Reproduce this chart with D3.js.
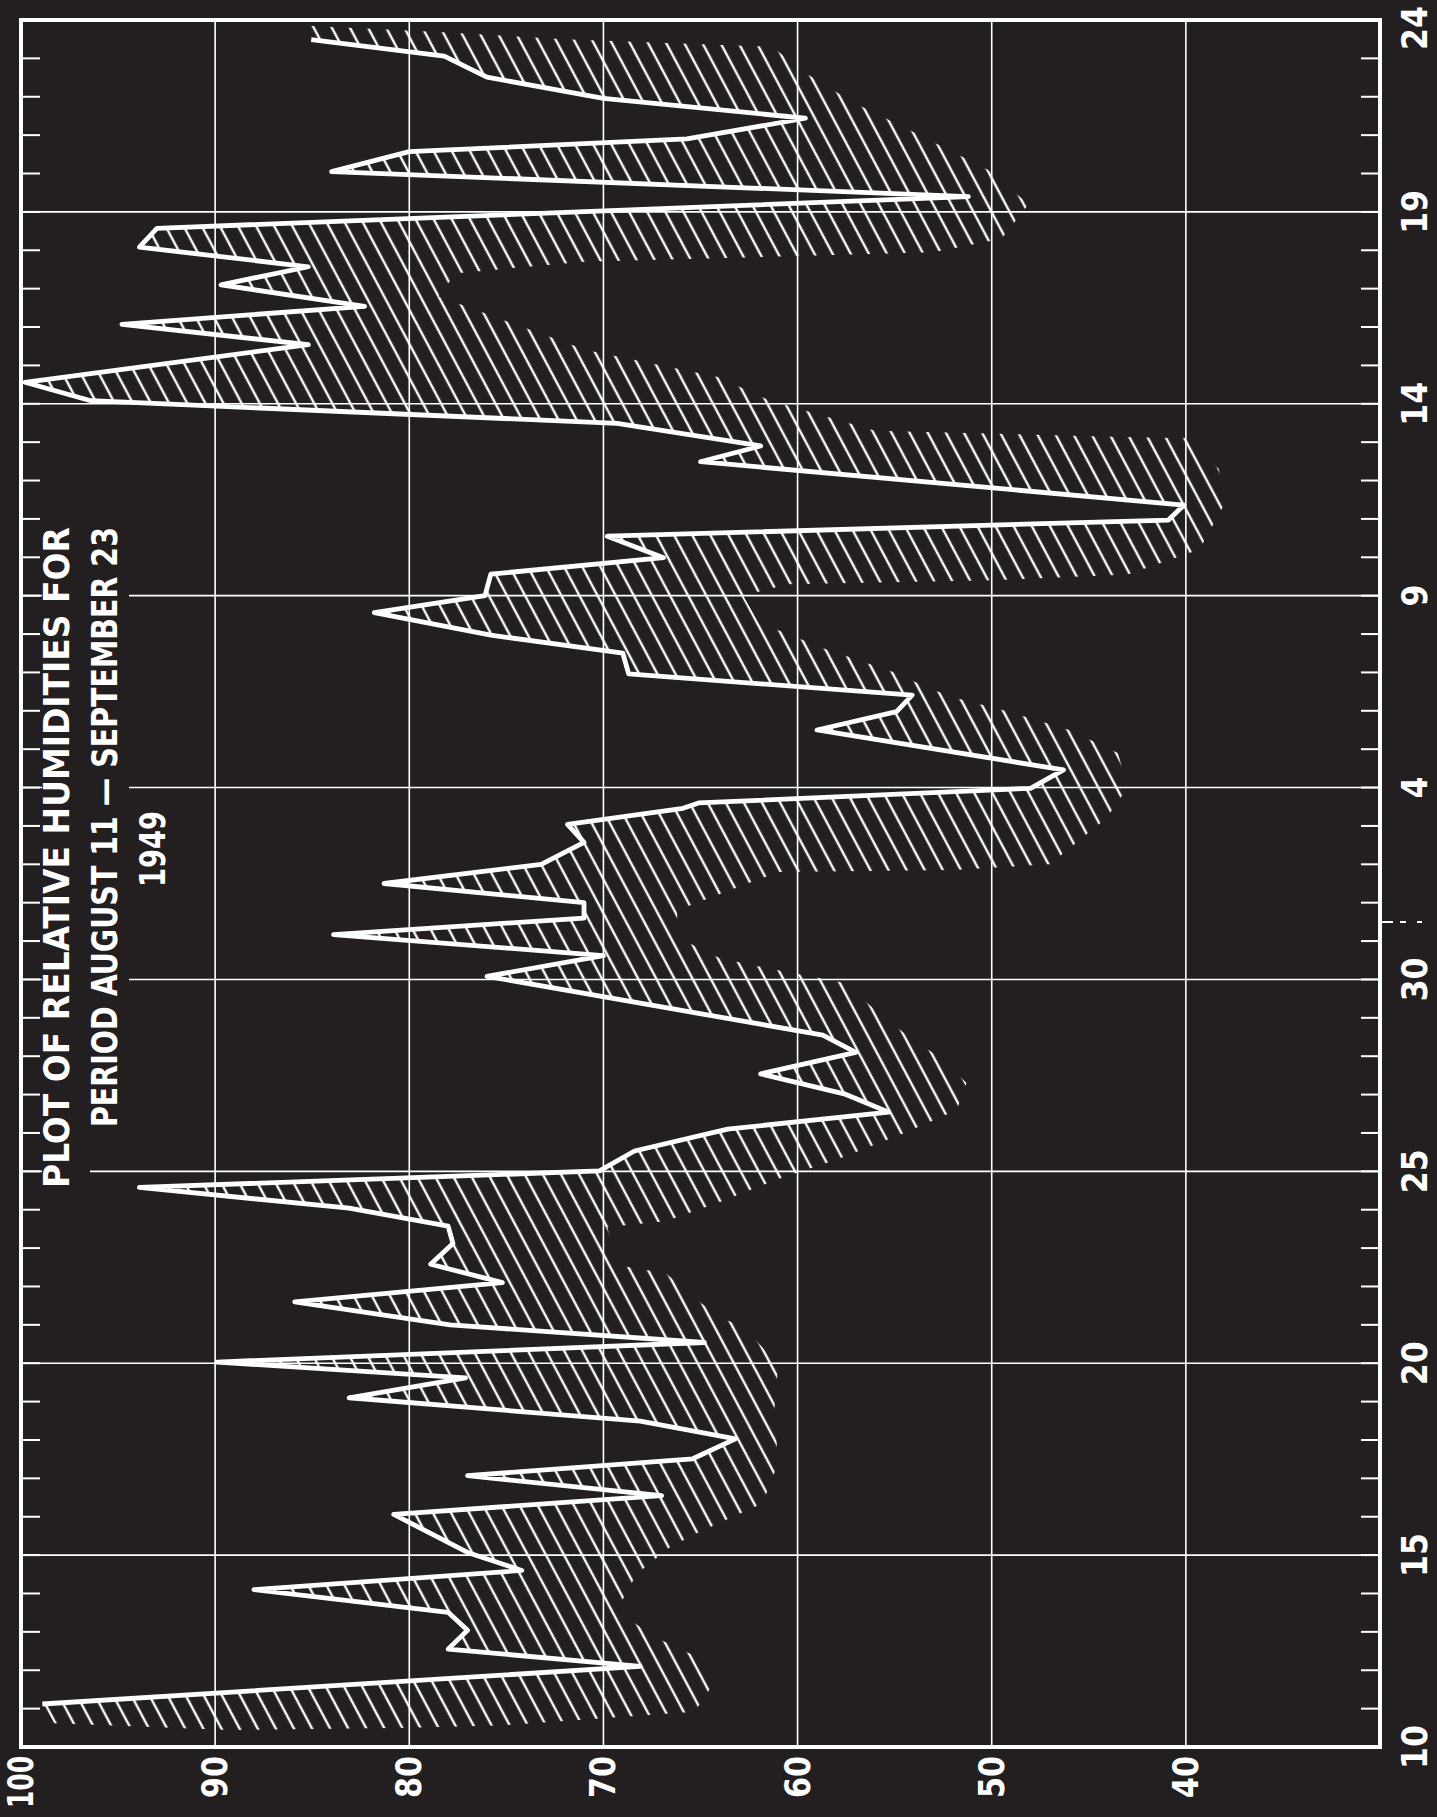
<!DOCTYPE html>
<meta charset="utf-8">
<style>
  body { margin: 0; background: #231f20; }
  svg { display: block; }
  .label { font-family: "DejaVu Sans Condensed", "DejaVu Sans", sans-serif; font-stretch: condensed; font-weight: bold; fill: #fff; }
</style>
<body>
<svg id="chart" width="1437" height="1817"></svg>
<script src="https://cdn.jsdelivr.net/npm/d3@7"></script>
<script>
// days counted from August 10, 1949 (day 1 = Aug 11, day 22 = Sep 1)
var days = [1.12, 2.10, 2.55, 3.04, 3.51, 4.10, 4.60, 5.07, 6.06,
  6.55, 7.07, 7.51, 8.03, 8.49, 9.10, 9.62, 10.03, 10.54, 11.0, 11.6, 12.10, 12.58,
  13.12, 13.57, 14.04, 14.58, 15.01, 15.53, 16.1, 16.54, 17.02, 17.54, 18.1, 18.55,
  20.08, 20.62, 21.17, 21.6, 22.0, 22.5, 23.0, 23.57, 24.04, 24.46, 24.6, 24.98, 25.46,
  26.5, 26.98, 27.41, 27.96, 28.5, 28.97, 29.56, 30.0, 30.56, 30.99, 31.55, 31.97, 32.36,
  33.49, 33.9, 34.49, 35.08, 35.56, 36.54, 37.07, 37.54, 38.1, 38.57,
  39.08, 39.57, 40.4, 41.05, 41.57, 41.9, 42.44, 42.96, 43.51, 44.06, 44.49];
var humidity = [98.9, 68.1, 78.0, 77.0, 78.0, 88.0, 74.2, 77.0, 80.8,
  67.0, 77.0, 65.4, 63.2, 68.1, 83.1, 77.1, 89.9, 64.8, 77.9, 85.9, 75.2, 78.9,
  77.75, 78.0, 83.1, 93.9, 70.2, 68.4, 63.6, 55.3, 57.6, 61.9, 57.0, 58.7,
  76.0, 70.0, 83.9, 71.0, 71.0, 81.3, 73.2, 71.0, 71.85, 65.9, 65.1, 48.0, 46.3,
  59.0, 54.9, 54.1, 68.7, 69.0, 75.8, 81.8, 76.1, 75.8, 66.9, 69.8, 40.9, 40.1,
  65.0, 61.9, 69.3, 96.4, 99.8, 85.2, 94.8, 82.3, 89.7, 85.2,
  93.9, 93.0, 51.2, 84.0, 80.0, 65.7, 59.6, 70.0, 76.0, 78.2, 85.05];

// outer edge of the hatched shadow, from first day to last
var shadeDays = [0.62, 0.44, 0.5, 0.57, 0.75, 0.92, 1.6, 2.19, 2.9, 3.57, 4.5, 5.2, 5.57, 6.35,
  7.4, 8.78, 9.95, 10.92, 11.18, 11.65, 12.35, 12.55, 13.55, 13.7, 14.2, 14.8, 15.3, 16.0,
  16.6, 17.3, 17.9, 18.6, 19.2, 19.9, 20.3, 20.55, 21.1, 21.8, 22.8, 22.85, 23.0, 24.2,
  25.0, 25.9, 26.5, 27.0, 27.35, 27.6, 28.0, 28.6, 29.3, 30.0, 30.3, 30.4, 30.55, 31.2,
  32.4, 33.3, 34.1, 34.15, 34.3, 35.1, 35.7, 36.4, 37.8, 38.4, 38.7, 38.85, 38.95, 39.3,
  40.2, 41.1, 42.2, 42.87, 43.65, 44.3, 44.5, 44.7, 44.85];
var shadeHumidity = [98.3, 89.3, 80.0, 75.0, 70.0, 65.3, 64.4, 64.5, 67.5, 69.3, 68.3, 66.6, 65.2, 61.8,
  61.0, 61.2, 61.0, 62.7, 63.9, 65.2, 66.8, 69.3, 69.8, 66.8, 64.0, 61.0, 58.0, 54.5,
  51.8, 51.3, 52.5, 54.5, 56.0, 57.5, 61.6, 64.0, 66.2, 66.2, 61.0, 52.0, 47.0, 44.1,
  43.0, 43.5, 46.0, 49.3, 52.0, 53.3, 55.0, 58.5, 62.0, 62.8, 60.5, 50.0, 43.0, 39.3,
  38.0, 38.3, 40.0, 44.3, 56.0, 61.5, 64.1, 70.9, 78.5, 77.6, 71.0, 60.0, 53.0, 49.5,
  48.1, 50.2, 54.5, 57.2, 59.7, 61.3, 72.0, 79.0, 85.3];

var humidityTicks = [100, 90, 80, 70, 60, 50, 40];
var dateTickDays = [0, 5, 10, 15, 20, 25, 30, 35, 40, 45];
var dateTickLabels = ["10", "15", "20", "25", "30", "4", "9", "14", "19", "24"];
var monthBreak = 21.5;

var titleLines = ["PLOT OF RELATIVE HUMIDITIES FOR", "PERIOD  AUGUST 11 \u2014 SEPTEMBER 23", "1949"];

var svg = d3.select("#chart");
var bg = "#231f20";
svg.append("rect").attr("width", 1437).attr("height", 1817).attr("fill", bg);

// the chart is printed turned on its side: humidity runs across, dates run up
var x = d3.scaleLinear().domain([100, 30]).range([21, 1380]);
var y = d3.scaleLinear().domain([0, 45]).range([1747, 20]);

var defs = svg.append("defs");
defs.append("pattern")
    .attr("id", "hatch")
    .attr("patternUnits", "userSpaceOnUse")
    .attr("width", 16).attr("height", 16)
    .attr("patternTransform", "rotate(-28)")
  .append("line")
    .attr("x1", 8).attr("y1", -2).attr("x2", 8).attr("y2", 18)
    .attr("stroke", "#fff").attr("stroke-width", 2.4);

var g = svg.append("g");

// grid
g.selectAll(".vgrid").data(humidityTicks.slice(1))
  .enter().append("line")
    .attr("x1", function(d) { return x(d); }).attr("x2", function(d) { return x(d); })
    .attr("y1", y(45)).attr("y2", y(0))
    .attr("stroke", "#fff").attr("stroke-width", 1.6);

g.selectAll(".hgrid").data(dateTickDays.slice(1, -1))
  .enter().append("line")
    .attr("x1", x(100)).attr("x2", x(30))
    .attr("y1", function(d) { return y(d); }).attr("y2", function(d) { return y(d); })
    .attr("stroke", "#fff").attr("stroke-width", 1.6);

// day ticks on both sides
var dayList = d3.range(1, 45);
g.selectAll(".ltick").data(dayList)
  .enter().append("line")
    .attr("x1", x(100)).attr("x2", x(100) + 19)
    .attr("y1", function(d) { return y(d); }).attr("y2", function(d) { return y(d); })
    .attr("stroke", "#fff").attr("stroke-width", 2);
g.selectAll(".rtick").data(dayList)
  .enter().append("line")
    .attr("x1", x(30) - 19).attr("x2", x(30))
    .attr("y1", function(d) { return y(d); }).attr("y2", function(d) { return y(d); })
    .attr("stroke", "#fff").attr("stroke-width", 2);

// month break mark outside the frame
g.append("line")
    .attr("x1", x(30) + 2).attr("x2", x(30) + 45)
    .attr("y1", y(monthBreak)).attr("y2", y(monthBreak))
    .attr("stroke", "#fff").attr("stroke-width", 2)
    .attr("stroke-dasharray", "11,7,6,11,5");

// title (masks the grid behind it)
var titleX = [57, 105, 153];
var titleStart = [1188, 1127, 887];
var titleLen = [661, 600, 76];
titleLines.forEach(function(t, i) {
  g.append("rect")
    .attr("x", titleX[i] - (i === 0 ? 15 : 24)).attr("width", 48)
    .attr("y", titleStart[i] - titleLen[i] - 6).attr("height", titleLen[i] + 12)
    .attr("fill", bg);
});
titleLines.forEach(function(t, i) {
  g.append("text")
    .attr("class", "label")
    .attr("transform", "translate(" + titleX[i] + "," + titleStart[i] + ") rotate(-90)")
    .attr("dominant-baseline", "central")
    .attr("font-size", 35)
    .attr("textLength", titleLen[i])
    .attr("lengthAdjust", "spacingAndGlyphs")
    .text(t);
});

// hatched shadow
var pts = days.map(function(d, i) { return [d, humidity[i]]; });
var edge = shadeDays.map(function(d, i) { return [d, shadeHumidity[i]]; }).reverse();
var line = d3.line()
    .x(function(p) { return x(p[1]); })
    .y(function(p) { return y(p[0]); });

g.append("path")
    .attr("d", line(pts.concat(edge)) + "Z")
    .attr("fill", "url(#hatch)");

g.append("path")
    .attr("d", line(pts))
    .attr("fill", "none")
    .attr("stroke", "#fff")
    .attr("stroke-width", 4.8)
    .attr("stroke-linejoin", "round");

// frame
g.append("rect")
    .attr("x", x(100)).attr("y", y(45))
    .attr("width", x(30) - x(100)).attr("height", y(0) - y(45))
    .attr("fill", "none").attr("stroke", "#fff").attr("stroke-width", 4);

// humidity labels along the bottom
g.selectAll(".hlab").data(humidityTicks)
  .enter().append("text")
    .attr("class", "label")
    .attr("transform", function(d) { return "translate(" + x(d) + "," + 1756 + ") rotate(-90)"; })
    .attr("text-anchor", "end")
    .attr("dominant-baseline", "central")
    .attr("font-size", 35)
    .attr("textLength", function(d) { return d === 100 ? 52 : 42; })
    .attr("lengthAdjust", "spacingAndGlyphs")
    .text(function(d) { return d; });

// date labels on the right (top one nudged down to stay on the page)
g.selectAll(".dlab").data(dateTickDays)
  .enter().append("text")
    .attr("class", "label")
    .attr("transform", function(d) { return "translate(" + 1415 + "," + Math.max(y(d), 28) + ") rotate(-90)"; })
    .attr("text-anchor", "middle")
    .attr("dominant-baseline", "central")
    .attr("font-size", 35)
    .text(function(d, i) { return dateTickLabels[i]; });
</script>
</body>
